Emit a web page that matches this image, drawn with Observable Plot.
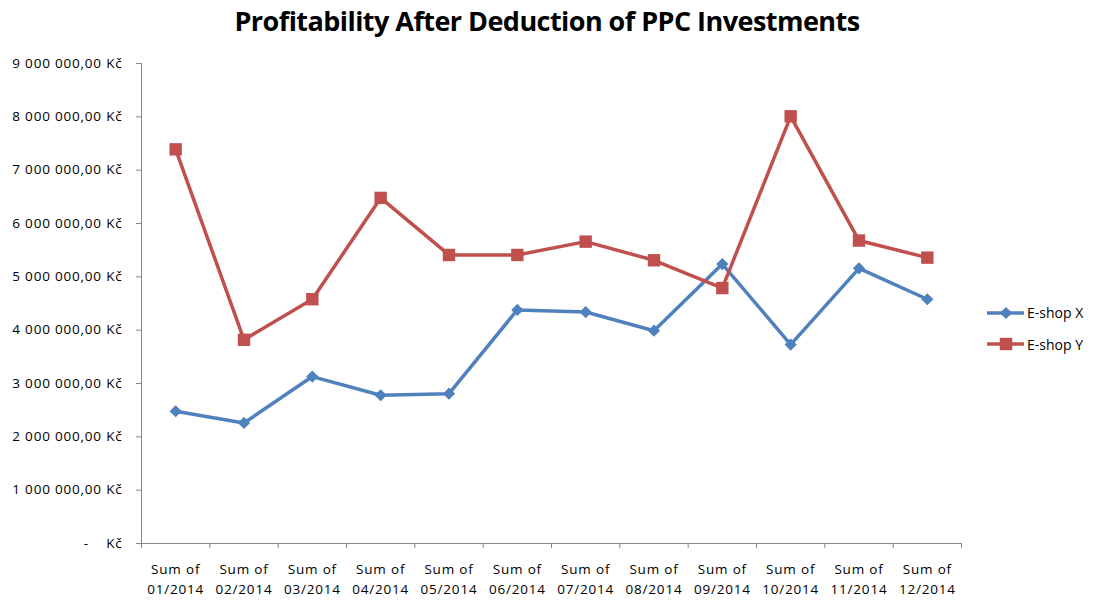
<!DOCTYPE html>
<html><head><meta charset="utf-8">
<script src="https://cdn.jsdelivr.net/npm/d3@7"></script>
<script src="https://cdn.jsdelivr.net/npm/@observablehq/plot@0.6"></script>
<style>
body{margin:0;background:#fff;}
#wrap{position:relative;width:1094px;height:602px;overflow:hidden;font-family:"Open Sans",sans-serif;}
#chart{position:absolute;left:0;top:0;}
#title{position:absolute;left:0;top:2px;width:1094px;text-align:center;font-weight:bold;font-size:27px;letter-spacing:-0.55px;font-family:"Open Sans",sans-serif;color:#000;}
#legend{position:absolute;left:987px;top:297px;font-size:14px;color:#000;}
.item{display:flex;align-items:center;height:31.5px;}
.item svg{margin-right:3px;}
g[aria-label="y-axis tick label"] text{letter-spacing:0.8px;}
g[aria-label="x-axis tick label"] text{letter-spacing:0.8px;}
</style></head><body>
<div id="wrap"><div id="chart"></div><div id="title">Profitability After Deduction of PPC Investments</div><div id="legend"></div></div>
<script>
const months = ["01/2014","02/2014","03/2014","04/2014","05/2014","06/2014","07/2014","08/2014","09/2014","10/2014","11/2014","12/2014"];
const seriesNames = ["E-shop X","E-shop Y"];
const eshopX = [2480000,2260000,3130000,2780000,2810000,4380000,4340000,3990000,5240000,3730000,5160000,4580000];
const eshopY = [7390000,3820000,4580000,6480000,5410000,5410000,5660000,5310000,4790000,8010000,5680000,5360000];
const yTicks = [0,1000000,2000000,3000000,4000000,5000000,6000000,7000000,8000000,9000000];
const colors = ["#4F81BD","#C0504D"];
const symbols = ["diamond2","square"];

const rows = [];
months.forEach((m,i)=>{
  rows.push({i, month:m, series:seriesNames[0], value:eshopX[i]});
  rows.push({i, month:m, series:seriesNames[1], value:eshopY[i]});
});
const nb = "\u00a0";
const fmtY = d => d === 0 ? "-" + nb+nb+nb+nb + "Kč"
  : d3.format(",")(d).replace(/,/g, nb) + ",00" + nb + "Kč";
const xc = d => d.i + 0.5;
const rX = 5.5, rY = 7;

const chart = Plot.plot({
  width:1094, height:602,
  marginLeft:141, marginRight:133, marginTop:63, marginBottom:59,
  style:{fontFamily:"'Open Sans',sans-serif", fontSize:"13px", color:"#000", background:"transparent"},
  x:{type:"linear", domain:[0,12]},
  y:{domain:[0,9000000]},
  color:{domain:seriesNames, range:colors},
  symbol:{domain:seriesNames, range:symbols},
  marks:[
    Plot.axisY({ticks:yTicks, tickSize:5, tickPadding:14, tickFormat:fmtY, fontSize:13.5, stroke:"#868686", fill:"#000", label:null}),
    Plot.axisX({ticks:d3.range(13), tickSize:5, tickFormat:()=>"", stroke:"#868686", label:null}),
    Plot.axisX({ticks:months.map((m,i)=>i+0.5), tickSize:0, tickPadding:17, tickFormat:d=>"Sum of\n"+months[Math.floor(d)], lineHeight:1.45, fontSize:13.5, fill:"#000", label:null}),
    Plot.ruleX([0], {stroke:"#868686"}),
    Plot.ruleY([0], {stroke:"#868686"}),
    Plot.line(rows, {x:xc, y:"value", stroke:"series", strokeWidth:3.5}),
    Plot.dot(rows.filter(d=>d.series===seriesNames[0]), {x:xc, y:"value", fill:"series", symbol:"series", r:rX, stroke:"none"}),
    Plot.dot(rows.filter(d=>d.series===seriesNames[1]), {x:xc, y:"value", fill:"series", symbol:"series", r:rY, stroke:"none"})
  ]
});
document.getElementById("chart").appendChild(chart);

const legend = document.getElementById("legend");
seriesNames.forEach((name,k)=>{
  const div = document.createElement("div");
  div.className = "item";
  const s = d3.create("svg").attr("width",37).attr("height",16);
  s.append("line").attr("x1",0).attr("x2",37).attr("y1",8).attr("y2",8).attr("stroke",colors[k]).attr("stroke-width",3.5);
  const sym = k===0 ? d3.symbolDiamond2 : d3.symbolSquare;
  const rr = k===0 ? rX : rY;
  s.append("path").attr("d", d3.symbol(sym, Math.PI*rr*rr)()).attr("transform","translate(19,8)").attr("fill",colors[k]);
  div.appendChild(s.node());
  const t = document.createElement("span");
  t.textContent = name;
  div.appendChild(t);
  legend.appendChild(div);
});
</script>
</body></html>
